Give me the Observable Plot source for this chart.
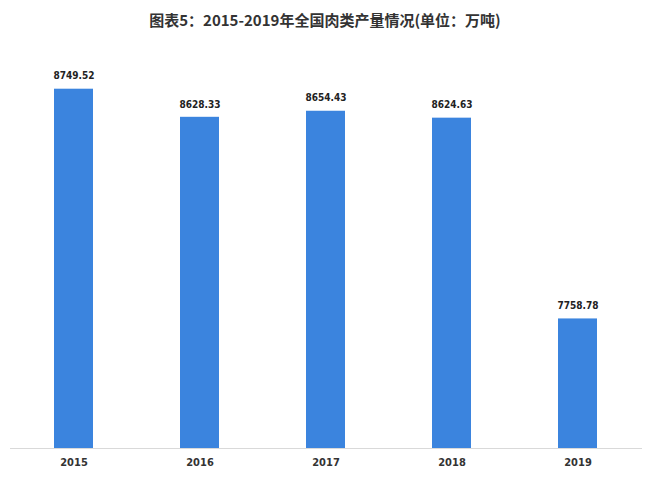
<!DOCTYPE html>
<html>
<head>
<meta charset="utf-8">
<script src="https://cdn.jsdelivr.net/npm/d3@7"></script>
<script src="https://cdn.jsdelivr.net/npm/@observablehq/plot@0.6"></script>
<style>
  html, body { margin: 0; padding: 0; background: #fff; }
  #wrap { width: 650px; height: 488px; position: relative; overflow: hidden; }
  #title { height: 40px; line-height: 40px; text-align: center; font-family: "Noto Sans CJK SC", sans-serif; font-weight: bold; font-size: 15px; color: #333; padding-left: 0px; box-sizing: border-box; }
</style>
</head>
<body>
<div id="wrap">
  <div id="title">图表5：2015-2019年全国肉类产量情况(单位：万吨)</div>
  <div id="chart"></div>
</div>
<script>
const years = ["2015", "2016", "2017", "2018", "2019"];
const output = [8749.52, 8628.33, 8654.43, 8624.63, 7758.78];
const labels = ["8749.52", "8628.33", "8654.43", "8624.63", "7758.78"];

const data = years.map((y, i) => ({year: y, value: output[i], label: labels[i]}));

const chart = Plot.plot({
  width: 650,
  height: 448,
  marginTop: 37,
  marginBottom: 40,
  marginLeft: 10,
  marginRight: 8,
  style: {fontFamily: "'Liberation Sans Narrow', 'DejaVu Sans Condensed', sans-serif", background: "#fff"},
  x: {domain: years, paddingInner: 0.69, paddingOuter: 0.345, label: null},
  y: {domain: [7200, 8800], axis: null},
  marks: [
    Plot.barY(data, {x: "year", y1: 7200, y2: "value", fill: "#3b84de"}),
    Plot.ruleY([7200], {stroke: "#d9d9d9", strokeWidth: 1.2}),
    Plot.text(data, {x: "year", y: "value", text: "label", dy: -13, fontSize: 10, fontWeight: "bold", fill: "#222"}),
    Plot.axisX({tickSize: 0, tickPadding: 10, fontSize: 11, fontWeight: "bold", color: "#333", label: null})
  ]
});
document.getElementById("chart").appendChild(chart);
</script>
</body>
</html>
